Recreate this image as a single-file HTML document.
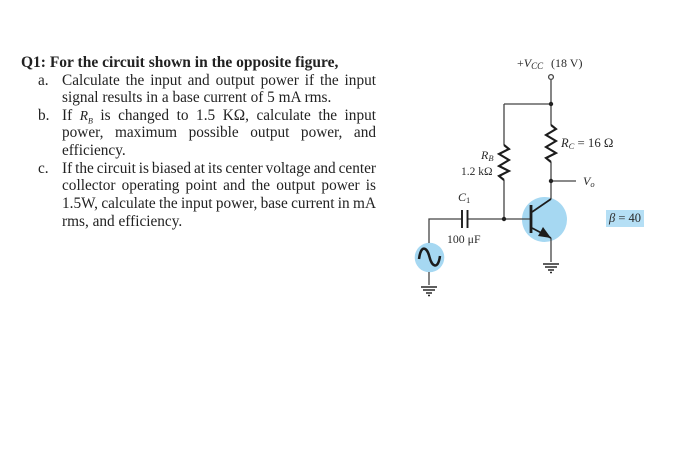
<!DOCTYPE html>
<html>
<head>
<meta charset="utf-8">
<style>
html,body{margin:0;padding:0;background:#fff}
#p{position:relative;width:700px;height:462px;overflow:hidden;background:#fff;font-family:"Liberation Serif",serif;color:#222}
.t{position:absolute;font-size:15.3px;line-height:18px;white-space:nowrap;filter:blur(.3px)}
.j{left:62px;width:314px;text-align:justify;text-align-last:justify;white-space:normal;word-spacing:-1.5px}
.n{left:62px}
.l{left:38px}
svg{position:absolute;left:0;top:0;filter:blur(.3px)}
svg text{font-family:"Liberation Serif",serif;fill:#2a2a2a}
</style>
</head>
<body>
<div id="p">
<div class="t" style="left:21px;top:54px;font-weight:bold;font-size:15.5px">Q1: For the circuit shown in the opposite figure,</div>
<div class="t l" style="top:72px">a.</div>
<div class="t j" style="top:72px">Calculate the input and output power if the input</div>
<div class="t n" style="top:89px">signal results in a base current of 5 mA rms.</div>
<div class="t l" style="top:107px">b.</div>
<div class="t j" style="top:107px">If <i style="font-size:13.500px">R<sub style="font-size:8px;line-height:0">B</sub></i> is changed to 1.5 KΩ, calculate the input</div>
<div class="t j" style="top:124px">power, maximum possible output power, and</div>
<div class="t n" style="top:142px">efficiency.</div>
<div class="t l" style="top:160px">c.</div>
<div class="t j" style="top:160px">If the circuit is biased at its center voltage and center</div>
<div class="t j" style="top:177px">collector operating point and the output power is</div>
<div class="t j" style="top:195px">1.5W, calculate the input power, base current in mA</div>
<div class="t n" style="top:213px">rms, and efficiency.</div>

<svg width="700" height="462" viewBox="0 0 700 462">
<circle cx="544.500" cy="219.500" r="22.500" fill="#a6d8f2"/>
<circle cx="429.500" cy="257.500" r="14.800" fill="#a6d8f2"/>
<rect x="606" y="210" width="38" height="17" fill="#b5dff5"/>
<g fill="none" stroke="#444" stroke-width="1.300">
<path d="M551 80V125M504 104H551M551 162V199M504 104V145M504 180V219M551 181H576M429 243V219H462M467 219H531M551 238V262M429 272V285"/>
<circle cx="551" cy="77" r="2.400" fill="#fff"/>
</g>
<g fill="none" stroke="#1c1c1c" stroke-width="2.100" stroke-linejoin="miter">
<path d="M551 125L556 129L546 135L556 141L546 147L556 153L546 158L551 162"/>
<path d="M504 145L509 149L499 154L509 160L499 166L509 171L499 176L504 180"/>
<path d="M462 210V228M467.500 210V228" stroke-width="1.900"/>
<path d="M531 205V233" stroke-width="2.800"/>
<path d="M532 212L551 199M532 228L551 238" stroke-width="1.700"/>
<path d="M419 259C421 244 427 247 429.500 257C432 267 438 270 440 256" stroke-width="2.500"/>
</g>
<path d="M551 238L538 236L543 227Z" fill="#1c1c1c"/>
<circle cx="551" cy="104" r="2.200" fill="#222"/>
<circle cx="551" cy="181" r="2.200" fill="#222"/>
<circle cx="504" cy="219" r="2.200" fill="#222"/>
<g stroke="#2a2a2a" stroke-width="1.600">
<path d="M543 264H559M545 267H557M548 270H554M550 272.500H552"/>
<path d="M421 287H437M423 290H435M426 293H432M428 295.500H430"/>
</g>
<text x="517" y="67" font-size="12">+<tspan font-style="italic">V</tspan><tspan font-style="italic" font-size="9" dy="2">CC</tspan><tspan dy="-2" x="551">(18 V)</tspan></text>
<text x="561" y="147" font-size="12.500" font-style="italic">R<tspan font-size="8.500" dy="2">C</tspan><tspan font-style="normal" dy="-2" font-size="12.800"> = 16 Ω</tspan></text>
<text x="481" y="159" font-size="12" font-style="italic">R<tspan font-size="8.500" dy="2">B</tspan></text>
<text x="461" y="175" font-size="11.500">1.2 kΩ</text>
<text x="583" y="185" font-size="12" font-style="italic">V<tspan font-size="8.500" dy="2">o</tspan></text>
<text x="458" y="201" font-size="12" font-style="italic">C<tspan font-size="8.500" dy="2" font-style="normal">1</tspan></text>
<text x="447" y="243" font-size="11.800">100 μF</text>
<text x="609" y="222" font-size="12.500"><tspan font-style="italic">β</tspan> = 40</text>
</svg>
</div>
</body>
</html>
